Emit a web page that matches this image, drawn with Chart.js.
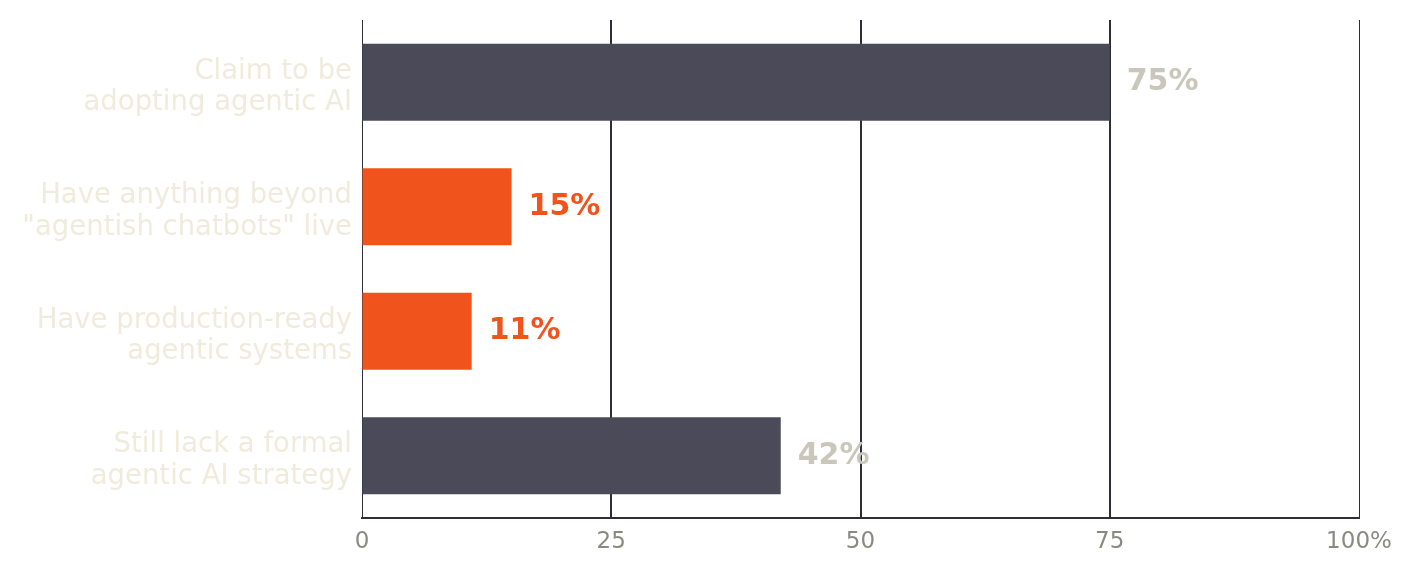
<!DOCTYPE html>
<html>
<head>
<meta charset="utf-8">
<script src="https://cdn.jsdelivr.net/npm/chart.js@4/dist/chart.umd.min.js"></script>
<style>
  html, body { margin: 0; padding: 0; background: #fff; }
  #wrap { width: 1413px; height: 572px; }
</style>
</head>
<body>
<div id="wrap"><canvas id="chart" width="1413" height="572"></canvas></div>
<script>
// veriler
const categories = [
    ["Claim to be", "adopting agentic AI"],
    ["Have anything beyond", "\"agentish chatbots\" live"],
    ["Have production-ready", "agentic systems"],
    ["Still lack a formal", "agentic AI strategy"]
];
const values = [75, 15, 11, 42];
const tickValues = [0, 25, 50, 75, 100];

const DARK = "#4b4a59";
const ORANGE = "#f1531c";
const barColors = [DARK, ORANGE, ORANGE, DARK];
const valueColors = ["#c9c7bc", ORANGE, ORANGE, "#c9c7bc"];

// bar ucuna yüzde etiketi
const valueLabels = {
    id: "valueLabels",
    afterDatasetsDraw(chart) {
        const ctx = chart.ctx;
        const meta = chart.getDatasetMeta(0);
        ctx.save();
        ctx.font = "bold 30px 'DejaVu Sans'";
        ctx.textAlign = "left";
        ctx.textBaseline = "middle";
        meta.data.forEach((bar, i) => {
            ctx.fillStyle = valueColors[i];
            ctx.fillText(values[i] + "%", bar.x + 17, bar.y);
        });
        ctx.restore();
    }
};

new Chart(document.getElementById("chart").getContext("2d"), {
    type: "bar",
    data: {
        labels: categories,
        datasets: [{
            data: values,
            backgroundColor: barColors,
            borderWidth: 0,
            categoryPercentage: 0.62,
            barPercentage: 1
        }]
    },
    plugins: [valueLabels],
    options: {
        indexAxis: "y",
        responsive: false,
        animation: false,
        layout: { padding: { top: 20, right: 54, left: 0, bottom: 0 } },
        plugins: {
            legend: { display: false },
            tooltip: { enabled: false }
        },
        scales: {
            x: {
                min: 0,
                max: 100,
                afterBuildTicks: (scale) => {
                    scale.ticks = tickValues.map(v => ({ value: v }));
                },
                afterFit: (scale) => { scale.height = 54; },
                grid: {
                    drawTicks: false,
                    color: "#2e2d38",
                    lineWidth: (c) => (c.tick && (c.tick.value === 0 || c.tick.value === 100)) ? 1 : 2
                },
                border: { display: true, color: "#2e2d38", width: 2 },
                ticks: {
                    padding: 10,
                    color: "#8b8a80",
                    font: { family: "DejaVu Sans", size: 23 },
                    callback: (v) => v === 100 ? "100%" : v
                }
            },
            y: {
                afterFit: (scale) => {
                    scale.width = 362;
                    scale.paddingTop = 0;
                    scale.paddingBottom = 0;
                },
                grid: { display: false, drawTicks: false },
                border: { display: false },
                ticks: {
                    padding: 10,
                    labelOffset: 5,
                    color: "#f0ebdc",
                    font: { family: "DejaVu Sans", size: 27.5, lineHeight: 1.15 }
                }
            }
        }
    }
});
</script>
</body>
</html>
